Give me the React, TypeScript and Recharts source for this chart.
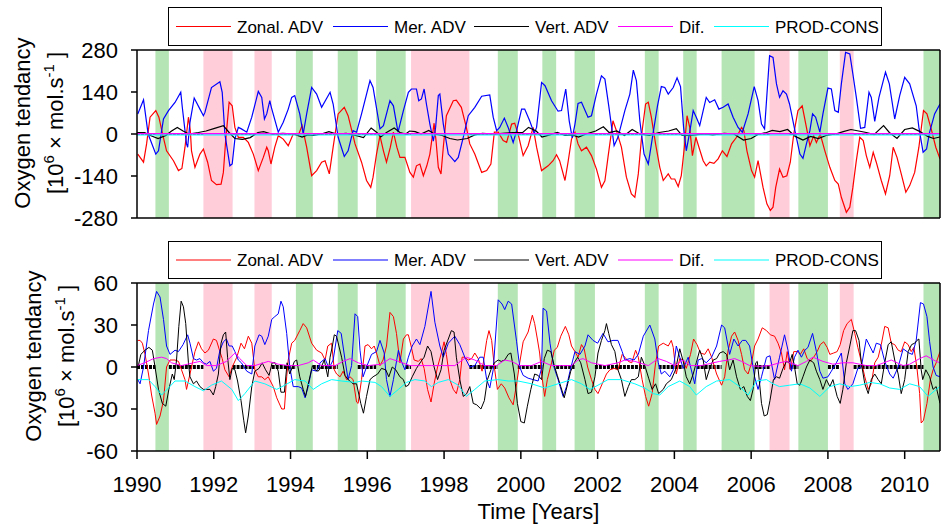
import React from "react";
import { LineChart, Line, XAxis, YAxis, ReferenceArea, ReferenceLine } from "recharts";

const FONT = "'Liberation Sans', Arial, Helvetica, sans-serif";
const X0 = 1990;
const X1 = 2010.92;
const yearTicks = [1990, 1992, 1994, 1996, 1998, 2000, 2002, 2004, 2006, 2008, 2010];
const topTicks = [-280, -140, 0, 140, 280];
const bottomTicks = [-60, -30, 0, 30, 60];

// shaded periods [start, end] in years
const greenPeriods = [
  [1990.48, 1990.83], [1994.14, 1994.58], [1995.23, 1995.75], [1996.23, 1997.0],
  [1999.4, 1999.92], [2000.56, 2000.92], [2001.4, 2001.93], [2003.23, 2003.59],
  [2004.23, 2004.58], [2005.23, 2006.09], [2007.23, 2008.0], [2010.49, 2010.92],
];
const pinkPeriods = [
  [1991.73, 1992.49], [1993.06, 1993.51], [1997.14, 1998.66], [2006.48, 2007.0], [2008.31, 2008.67],
];

// series: [years since 1990, value]
const zonalTop = [
  [0.02, -67], [0.17, -94], [0.25, -33], [0.34, 56], [0.49, 78], [0.57, 56], [0.68, -8], [0.77, -56], [0.95, -89],
  [1.08, -122], [1.17, -115], [1.25, -44], [1.34, 56], [1.39, 11], [1.42, -56], [1.51, -111], [1.64, -67], [1.73, -50],
  [1.84, -94], [1.94, -155], [2.07, -169], [2.19, -167], [2.25, -128], [2.31, -22], [2.4, 106], [2.48, 94], [2.55, 22],
  [2.64, -11], [2.77, -11], [2.9, -28], [3.03, -67], [3.16, -122], [3.29, -78], [3.38, -44], [3.42, -56], [3.49, -100],
  [3.59, -44], [3.68, -6], [3.81, -17], [3.94, -39], [4.07, 0], [4.2, -6], [4.3, 28], [4.42, -44], [4.55, -139],
  [4.68, -122], [4.81, -94], [4.9, -89], [5.01, -133], [5.11, -44], [5.24, 67], [5.4, 89], [5.5, 61], [5.68, -33],
  [5.85, -94], [5.98, -155], [6.09, -178], [6.15, -144], [6.24, -67], [6.33, -6], [6.42, -56], [6.5, -94], [6.6, -44],
  [6.68, 6], [6.77, -44], [6.85, -78], [6.98, -78], [7.11, -128], [7.2, -144], [7.28, -106], [7.37, -100], [7.46, -139],
  [7.55, -106], [7.63, -67], [7.74, 36], [7.79, -22], [7.85, -111], [7.92, -133], [7.98, -44], [8.06, 61], [8.24, 111],
  [8.32, 113], [8.45, 89], [8.58, 22], [8.67, -33], [8.8, -67], [8.98, -128], [9.11, -122], [9.22, -100], [9.31, 6],
  [9.41, 6], [9.54, -22], [9.63, -28], [9.76, 33], [9.84, 36], [9.93, 0], [10.06, -72], [10.19, -39], [10.32, 22],
  [10.41, -44], [10.54, -122], [10.71, -106], [10.84, -89], [10.93, -69], [11.01, -89], [11.15, -155], [11.23, -94],
  [11.32, -17], [11.41, 6], [11.49, -33], [11.58, -56], [11.71, -44], [11.84, -72], [11.97, -117], [12.1, -178],
  [12.19, -156], [12.27, -78], [12.4, 44], [12.49, 11], [12.62, -44], [12.75, -144], [12.88, -200], [12.97, -211],
  [13.06, -133], [13.16, 11], [13.25, 100], [13.32, 106], [13.4, 56], [13.51, -33], [13.62, -111], [13.71, -155],
  [13.84, -133], [13.92, -150], [14.01, -150], [14.1, -175], [14.18, -139], [14.26, -44], [14.33, 61], [14.4, 22],
  [14.47, -72], [14.56, -11], [14.64, -44], [14.75, -89], [14.83, -106], [14.92, -94], [15.03, -98], [15.14, -83],
  [15.25, -56], [15.37, -75], [15.49, -33], [15.62, -11], [15.75, 22], [15.81, 11], [15.89, -56], [16.01, -122],
  [16.09, -144], [16.18, -89], [16.31, -178], [16.41, -233], [16.5, -255], [16.57, -244], [16.64, -178], [16.74, -117],
  [16.83, -144], [16.93, -139], [17.02, -94], [17.11, 0], [17.22, 78], [17.33, 94], [17.44, 22], [17.53, -39],
  [17.63, -6], [17.7, -28], [17.8, 0], [17.92, -56], [18.05, -111], [18.18, -155], [18.27, -167], [18.35, -211],
  [18.48, -261], [18.57, -244], [18.65, -178], [18.74, -89], [18.83, -11], [18.92, -22], [19.0, -72], [19.09, -111],
  [19.18, -61], [19.26, -94], [19.39, -155], [19.5, -200], [19.61, -139], [19.7, -44], [19.8, -78], [19.91, -133],
  [20.03, -194], [20.13, -172], [20.26, -128], [20.37, -44], [20.49, 78], [20.58, 67], [20.69, 17], [20.81, -44], [20.92, -83],
];
const merTop = [
  [0.02, 67], [0.17, 114], [0.29, 0], [0.49, -67], [0.56, -56], [0.69, 50], [0.82, 78], [0.99, 105], [1.14, 139],
  [1.18, 89], [1.29, -33], [1.32, -44], [1.38, 39], [1.49, 120], [1.64, 83], [1.73, 61], [1.77, 72], [1.94, 155],
  [2.16, 174], [2.22, 139], [2.29, 0], [2.42, -106], [2.48, -100], [2.55, -17], [2.64, 22], [2.72, 17], [2.86, 6],
  [2.99, 56], [3.16, 142], [3.25, 122], [3.32, 50], [3.38, 67], [3.46, 111], [3.5, 89], [3.68, 6], [3.81, 39],
  [3.94, 83], [4.03, 122], [4.11, 128], [4.24, 67], [4.33, 0], [4.42, 67], [4.55, 155], [4.68, 133], [4.81, 89],
  [5.03, 139], [5.11, 100], [5.24, -11], [5.4, -75], [5.5, -56], [5.63, 11], [5.72, 6], [5.85, 67], [6.07, 178],
  [6.15, 155], [6.33, 17], [6.42, 28], [6.59, 111], [6.68, 94], [6.8, 6], [6.94, 78], [7.07, 139], [7.15, 150],
  [7.28, 150], [7.34, 111], [7.41, 117], [7.48, 150], [7.54, 100], [7.63, 33], [7.72, -24], [7.78, 22], [7.85, 128],
  [7.89, 133], [7.98, 33], [8.11, -67], [8.28, -92], [8.37, -78], [8.5, -11], [8.63, 61], [8.8, 89], [8.98, 126],
  [9.19, 130], [9.28, 56], [9.37, 11], [9.45, 22], [9.57, 53], [9.67, 22], [9.8, -28], [9.89, 11], [10.02, 83],
  [10.1, 83], [10.23, 44], [10.35, 2], [10.41, 22], [10.54, 172], [10.63, 161], [10.8, 111], [10.97, 76], [11.06, 78],
  [11.17, 150], [11.26, 44], [11.34, -13], [11.41, 33], [11.49, 102], [11.58, 106], [11.75, 56], [11.84, 61],
  [11.97, 133], [12.1, 194], [12.19, 183], [12.29, 94], [12.43, -39], [12.53, -11], [12.71, 78], [12.84, 133],
  [12.93, 213], [13.01, 178], [13.1, 44], [13.21, -67], [13.32, -100], [13.45, 6], [13.56, 94], [13.66, 158],
  [13.75, 155], [13.84, 133], [13.97, 155], [14.07, 187], [14.16, 158], [14.24, 22], [14.31, -56], [14.4, 6],
  [14.49, 78], [14.57, 56], [14.66, 28], [14.75, 78], [14.83, 122], [14.92, 105], [15.05, 114], [15.16, 83],
  [15.27, 89], [15.4, 100], [15.53, 56], [15.66, 22], [15.77, 6], [15.92, 67], [16.08, 158], [16.18, 111], [16.27, 33],
  [16.35, 17], [16.48, 261], [16.57, 255], [16.66, 167], [16.74, 122], [16.83, 144], [16.92, 133], [17.0, 100],
  [17.14, 11], [17.27, -67], [17.35, -81], [17.44, -33], [17.53, 11], [17.6, 67], [17.68, 56], [17.79, 6], [17.87, 67],
  [18.0, 153], [18.09, 150], [18.18, 78], [18.27, 72], [18.35, 167], [18.46, 272], [18.57, 267], [18.65, 200],
  [18.74, 122], [18.85, 19], [18.96, 22], [19.07, 139], [19.13, 122], [19.22, 42], [19.33, 122], [19.5, 206],
  [19.6, 167], [19.74, 50], [19.87, 128], [20.0, 189], [20.13, 167], [20.3, 94], [20.37, 22], [20.48, -61],
  [20.57, -50], [20.65, 6], [20.78, 67], [20.92, 100],
];
const vertTop = [
  [0.0, 5], [0.2, 5], [0.35, -5], [0.55, -15], [0.75, -5], [0.9, 10], [1.05, 22], [1.2, 10], [1.35, 0], [1.6, 5],
  [1.8, 10], [2.0, 18], [2.25, 28], [2.4, 5], [2.55, -15], [2.75, -18], [2.95, -12], [3.15, 5], [3.3, 8], [3.5, 0],
  [3.8, 2], [4.1, 0], [4.3, -10], [4.45, -3], [4.6, -5], [4.8, 0], [5.0, 8], [5.2, 0], [5.45, 2], [5.7, -5],
  [5.9, -12], [6.1, 20], [6.25, 5], [6.35, -10], [6.5, 5], [6.7, 20], [6.85, 5], [7.0, 0], [7.1, 10], [7.25, 8],
  [7.4, 0], [7.6, 12], [7.75, 0], [7.95, -5], [8.15, -15], [8.35, -20], [8.6, -15], [8.8, -3], [9.0, 2], [9.3, 0],
  [9.6, 3], [9.8, 5], [10.05, 5], [10.2, 22], [10.4, 10], [10.55, -10], [10.75, -3], [10.95, 5], [11.15, -5],
  [11.35, -3], [11.5, -10], [11.7, 0], [11.95, 10], [12.15, 24], [12.3, 5], [12.5, 10], [12.7, -5], [12.9, 15],
  [13.1, 0], [13.35, -5], [13.6, 5], [13.85, 10], [14.05, 18], [14.2, -5], [14.4, -5], [14.6, -2], [14.8, 0],
  [15.0, -3], [15.3, 2], [15.55, 0], [15.8, -20], [16.0, -15], [16.2, 0], [16.4, 5], [16.55, 12], [16.75, 8],
  [16.95, 15], [17.15, -8], [17.35, -20], [17.55, -8], [17.75, -15], [17.95, -5], [18.2, 0], [18.4, 8], [18.6, 15],
  [18.8, 10], [19.0, 5], [19.2, -2], [19.45, 28], [19.6, 5], [19.8, -15], [20.0, 15], [20.2, 20], [20.4, 8],
  [20.6, -8], [20.75, -15], [20.92, -10],
];
const difTop = [[0, 1], [5, 1], [10, 1], [15, 1], [20.92, 1]];
const prodTop = [[0, -3], [5, -3], [10, -3], [15, -3], [20.92, -3]];

const zonalBottom = [
  [0.02, 19], [0.08, 19], [0.14, 17], [0.21, 9], [0.3, -5], [0.38, -20], [0.47, -33], [0.51, -41], [0.6, -35],
  [0.69, -24], [0.77, 0], [0.86, 5], [0.99, 5], [1.08, 4], [1.16, -2], [1.25, -9], [1.29, -16], [1.38, -5], [1.51, 11],
  [1.6, 18], [1.68, 13], [1.77, 10], [1.86, 12], [1.99, 20], [2.07, 19], [2.16, 11], [2.22, 6], [2.29, -2], [2.4, -7],
  [2.48, 0], [2.6, 7], [2.71, 17], [2.8, 13], [2.9, 22], [2.99, 17], [3.07, -2], [3.16, -7], [3.25, -7], [3.33, -9],
  [3.42, -7], [3.55, -14], [3.64, -22], [3.77, -30], [3.84, -30], [3.9, -7], [3.94, 5], [4.03, 17], [4.11, 19],
  [4.24, 26], [4.33, 31], [4.42, 28], [4.55, 17], [4.68, 12], [4.81, 10], [4.9, 5], [4.97, 15], [5.07, 17], [5.14, -2],
  [5.2, -5], [5.29, -7], [5.37, -3], [5.46, -9], [5.55, -7], [5.63, -9], [5.72, -25], [5.76, -26], [5.85, -9],
  [5.94, 15], [6.02, 16], [6.11, 13], [6.18, 15], [6.24, 10], [6.33, 1], [6.41, 5], [6.5, 15], [6.59, 39], [6.68, 36],
  [6.76, 24], [6.85, 3], [6.94, 20], [7.02, 23], [7.07, 23], [7.14, 15], [7.22, 5], [7.33, 4], [7.4, 6], [7.48, -1],
  [7.57, -16], [7.66, -25], [7.74, -12], [7.83, 0], [7.93, 10], [8.0, 18], [8.06, 9], [8.15, -9], [8.24, -16],
  [8.32, -19], [8.41, -9], [8.47, 7], [8.54, 7], [8.63, 5], [8.72, 6], [8.8, 10], [8.89, 6], [8.99, -3], [9.11, 19],
  [9.17, 26], [9.24, 19], [9.31, 0], [9.39, -16], [9.49, -12], [9.58, -15], [9.69, -22], [9.8, -27], [9.89, -12],
  [9.97, 3], [10.06, 18], [10.19, 25], [10.3, 37], [10.36, 31], [10.43, 20], [10.49, 10], [10.55, -7], [10.62, -21],
  [10.69, -9], [10.8, 3], [10.87, 12], [10.95, 14], [11.04, 22], [11.16, 29], [11.25, 23], [11.32, 15], [11.41, 11],
  [11.49, 7], [11.58, 16], [11.65, 13], [11.74, 0], [11.84, -9], [11.93, -16], [12.01, -19], [12.12, -12],
  [12.23, -5], [12.32, -2], [12.43, -1], [12.53, -2], [12.64, 9], [12.71, 7], [12.8, 4], [12.89, 3], [12.99, 12],
  [13.06, 7], [13.16, -9], [13.25, -21], [13.33, -28], [13.42, -19], [13.51, 3], [13.59, 15], [13.71, 17], [13.84, 15],
  [13.92, 19], [13.97, 14], [14.05, -5], [14.14, 6], [14.23, 5], [14.31, -1], [14.42, 9], [14.5, 20], [14.59, 16],
  [14.68, 10], [14.79, 9], [14.88, 13], [14.97, 7], [15.1, -5], [15.23, -13], [15.31, -7], [15.4, 12], [15.49, 22],
  [15.57, 25], [15.66, 19], [15.75, 9], [15.83, -2], [15.92, -5], [16.01, 3], [16.09, 15], [16.18, 20], [16.29, 28],
  [16.4, 26], [16.5, 23], [16.61, 22], [16.7, 17], [16.79, 10], [16.87, -2], [16.94, 11], [17.02, -2], [17.11, 11],
  [17.2, 11], [17.28, 9], [17.37, 13], [17.46, 6], [17.54, 4], [17.63, 7], [17.72, 11], [17.8, 16], [17.89, 18],
  [17.98, 14], [18.05, 9], [18.15, 10], [18.24, 11], [18.32, 16], [18.41, 26], [18.5, 31], [18.61, 34], [18.7, 24],
  [18.78, 14], [18.87, 4], [18.96, -7], [19.05, -16], [19.13, -12], [19.22, 3], [19.31, 7], [19.39, 16], [19.48, 29],
  [19.57, 28], [19.65, 17], [19.74, 16], [19.83, 12], [19.91, 11], [20.0, 18], [20.09, 16], [20.17, 11], [20.24, 14],
  [20.32, -1], [20.39, -19], [20.43, -40], [20.49, -38], [20.58, -26], [20.67, -9], [20.74, -2], [20.82, 3], [20.92, 11],
];
const merBottom = [
  [0.02, -9], [0.08, -12], [0.17, 0], [0.3, 26], [0.43, 45], [0.51, 54], [0.6, 50], [0.69, 34], [0.77, 15], [0.86, 9],
  [0.99, 12], [1.08, 11], [1.2, 16], [1.32, 23], [1.38, 17], [1.47, 6], [1.55, 5], [1.64, 6], [1.73, 3], [1.81, 2],
  [1.9, 4], [1.99, -3], [2.07, -1], [2.16, 12], [2.25, 18], [2.33, 20], [2.4, 15], [2.48, 15], [2.55, 11], [2.64, 5],
  [2.72, 3], [2.86, -3], [2.99, -5], [3.07, 15], [3.18, 23], [3.25, 22], [3.33, 16], [3.42, 22], [3.51, 34], [3.59, 36],
  [3.68, 38], [3.75, 47], [3.81, 43], [3.9, 24], [3.98, 0], [4.07, -14], [4.2, -14], [4.29, -15], [4.38, -22],
  [4.46, -14], [4.55, -2], [4.68, -3], [4.77, 3], [4.9, 6], [5.0, -1], [5.11, 5], [5.23, 26], [5.32, 24], [5.42, 5],
  [5.5, -9], [5.59, 1], [5.68, 38], [5.75, 36], [5.81, 12], [5.89, -7], [5.98, 0], [6.11, 9], [6.24, 11], [6.33, 19],
  [6.44, 10], [6.5, -9], [6.59, -21], [6.68, -9], [6.81, 12], [6.89, 4], [6.98, -2], [7.07, 7], [7.17, 15], [7.28, 20],
  [7.37, 16], [7.5, 29], [7.66, 54], [7.76, 32], [7.89, 15], [7.98, 7], [8.11, 17], [8.28, 22], [8.41, 16], [8.54, 7],
  [8.67, 0], [8.8, 1], [8.93, 7], [9.02, 7], [9.11, -9], [9.19, -15], [9.28, -2], [9.41, 48], [9.51, 45], [9.58, 41],
  [9.67, 47], [9.76, 45], [9.89, 18], [9.97, 0], [10.06, -6], [10.19, -8], [10.32, -9], [10.45, -10], [10.54, -1],
  [10.58, 42], [10.67, 40], [10.76, 17], [10.85, 1], [10.97, -9], [11.1, -21], [11.19, -14], [11.28, -3], [11.41, 11],
  [11.54, 9], [11.67, 15], [11.75, 23], [11.88, 19], [12.0, 17], [12.14, 24], [12.27, 18], [12.4, 19], [12.53, 19],
  [12.64, 11], [12.71, 5], [12.84, 6], [12.95, 5], [13.06, 9], [13.19, 22], [13.36, 30], [13.49, 20], [13.58, 3],
  [13.66, -5], [13.75, -3], [13.88, -7], [13.97, -2], [14.05, 15], [14.14, 7], [14.23, -1], [14.36, 7], [14.44, -2],
  [14.53, -12], [14.62, 5], [14.71, 6], [14.83, 3], [14.97, 7], [15.1, 15], [15.23, 30], [15.31, 28], [15.44, 9],
  [15.55, 20], [15.66, 15], [15.77, 19], [15.86, 19], [15.96, 15], [16.09, -7], [16.18, -16], [16.27, -7], [16.4, 7],
  [16.49, 8], [16.61, -9], [16.74, 7], [16.87, 23], [16.96, 12], [17.05, -3], [17.13, 7], [17.22, 12], [17.31, 7],
  [17.4, 12], [17.48, 14], [17.6, 24], [17.7, 11], [17.79, -3], [17.87, -8], [18.0, -7], [18.09, -3], [18.22, 3],
  [18.35, 10], [18.44, -12], [18.52, -16], [18.65, -12], [18.78, -1], [18.87, 0], [19.0, 20], [19.09, 15], [19.18, 10],
  [19.26, 17], [19.37, 16], [19.48, 4], [19.61, -5], [19.7, -8], [19.83, 0], [19.96, 13], [20.11, 10], [20.2, 9],
  [20.3, 19], [20.41, 46], [20.49, 45], [20.58, 36], [20.65, 18], [20.74, 0], [20.82, -6], [20.92, -7],
];
const vertBottom = [
  [0.02, -1], [0.1, 9], [0.21, 12], [0.31, 14], [0.4, 12], [0.47, 0], [0.56, -16], [0.66, -26], [0.75, -28],
  [0.83, -16], [0.92, -5], [0.97, -9], [1.03, 5], [1.09, 29], [1.15, 47], [1.21, 43], [1.27, 31], [1.34, 3], [1.38, -7],
  [1.47, -12], [1.55, -10], [1.64, -14], [1.73, -16], [1.81, -16], [1.9, -16], [1.99, -20], [2.05, -14], [2.12, -5],
  [2.19, 17], [2.25, 23], [2.31, 25], [2.36, 7], [2.42, -9], [2.48, -1], [2.55, -2], [2.62, -10], [2.71, -24],
  [2.78, -38], [2.83, -47], [2.9, -35], [2.99, -14], [3.07, -3], [3.18, -1], [3.26, 3], [3.35, -2], [3.44, -6],
  [3.52, 3], [3.6, 3], [3.68, -3], [3.75, -18], [3.84, -18], [3.91, 3], [3.98, -5], [4.1, 4], [4.16, 5], [4.24, -7],
  [4.33, -16], [4.39, -21], [4.48, -10], [4.57, 1], [4.64, -2], [4.72, -3], [4.8, 0], [4.88, 5], [4.97, -7], [5.03, 7],
  [5.09, 15], [5.14, 23], [5.2, 22], [5.26, 15], [5.33, 7], [5.42, -6], [5.5, -9], [5.63, -12], [5.72, -12],
  [5.83, -26], [5.9, -33], [5.98, -21], [6.07, -9], [6.15, -7], [6.27, -5], [6.37, -1], [6.48, -2], [6.56, -7],
  [6.65, 0], [6.74, -2], [6.85, -7], [6.94, -9], [7.0, -14], [7.07, -13], [7.17, -7], [7.28, -1], [7.4, 4], [7.48, 7],
  [7.57, 15], [7.66, 11], [7.74, 0], [7.83, -9], [7.92, -2], [8.0, 12], [8.11, 20], [8.19, 26], [8.26, 25], [8.32, 7],
  [8.41, -9], [8.5, -21], [8.59, -19], [8.67, -14], [8.76, -26], [8.85, -27], [8.96, -30], [9.05, -24], [9.13, -9],
  [9.22, -2], [9.31, 3], [9.41, 5], [9.49, 4], [9.58, 5], [9.67, 9], [9.74, 10], [9.83, -5], [9.91, -26], [10.0, -39],
  [10.09, -40], [10.17, -28], [10.26, -16], [10.36, -5], [10.45, -6], [10.54, -9], [10.61, 6], [10.69, 12],
  [10.78, 11], [10.87, 1], [10.95, -6], [11.04, -14], [11.13, -22], [11.22, -12], [11.3, -3], [11.39, 3], [11.48, 7],
  [11.56, 3], [11.67, -9], [11.75, -19], [11.84, -18], [11.93, -7], [12.01, 10], [12.1, 19], [12.19, 26], [12.23, 31],
  [12.29, 24], [12.36, 16], [12.45, 11], [12.53, -2], [12.62, -9], [12.71, -21], [12.8, -14], [12.88, -9], [12.97, -9],
  [13.06, -7], [13.14, 7], [13.23, 1], [13.33, -8], [13.42, -16], [13.51, -12], [13.59, -19], [13.71, -16],
  [13.79, -12], [13.92, -9], [14.03, -2], [14.14, 13], [14.23, 4], [14.31, -7], [14.4, -12], [14.49, -5], [14.57, 3],
  [14.66, 12], [14.75, 5], [14.83, -9], [14.92, -1], [15.01, 5], [15.1, 6], [15.18, 10], [15.27, 11], [15.36, 9],
  [15.44, -2], [15.53, 5], [15.62, -7], [15.72, -16], [15.81, -14], [15.9, -21], [15.98, -24], [16.05, -16],
  [16.12, 3], [16.16, 4], [16.21, -9], [16.27, -26], [16.34, -35], [16.42, -34], [16.49, -24], [16.58, -9],
  [16.66, -7], [16.74, -8], [16.83, -1], [16.92, 4], [17.0, 3], [17.07, 9], [17.13, 0], [17.2, -12], [17.27, -13],
  [17.35, -7], [17.44, 0], [17.53, 5], [17.63, 3], [17.7, -3], [17.79, -9], [17.87, -16], [17.96, -9], [18.05, -14],
  [18.13, -9], [18.24, -21], [18.32, -26], [18.39, -16], [18.48, 3], [18.57, 15], [18.65, 26], [18.72, 26],
  [18.81, 19], [18.87, 3], [18.96, -12], [19.05, -19], [19.13, -9], [19.22, -5], [19.31, -9], [19.39, -12], [19.48, 3],
  [19.57, 16], [19.65, 18], [19.74, 5], [19.83, -5], [19.91, -19], [20.0, -9], [20.09, 11], [20.18, 16], [20.26, 17],
  [20.32, 19], [20.37, 20], [20.43, -2], [20.47, -9], [20.55, -2], [20.65, -7], [20.74, -16], [20.82, -14], [20.92, -26],
];
const difBottom = [
  [0, 1], [0.2, 3], [0.43, 6], [0.64, 7], [0.77, 6], [0.9, 3], [1.16, 1], [1.47, 3], [1.64, 4], [1.81, 1], [2.07, 1],
  [2.33, 4], [2.55, 10], [2.68, 6], [2.86, 1], [3.07, 1], [3.42, 4], [3.68, 2], [3.94, 1], [4.2, 1], [4.46, 3],
  [4.59, 5], [4.81, 1], [5.16, 1], [5.37, 4], [5.55, 6], [5.76, 3], [6.02, 1], [6.37, 2], [6.59, 6], [6.81, 4],
  [7.11, 1], [7.33, 1], [7.67, 1], [8.02, 1], [8.28, 1], [8.58, 7], [8.8, 5], [9.06, 1], [9.37, 1], [9.58, 5],
  [9.76, 4], [9.97, 1], [10.28, 1], [10.54, 4], [10.8, 1], [11.06, 1], [11.32, 1], [11.49, 5], [11.62, 6], [11.84, 3],
  [12.19, 1], [12.53, 3], [12.71, 5], [12.97, 4], [13.32, 1], [13.58, 6], [13.79, 4], [14.01, 1], [14.23, 5], [14.4, 1],
  [14.7, 1], [15.01, 3], [15.18, 4], [15.4, 5], [15.57, 6], [15.75, 4], [15.96, 1], [16.22, 0.5], [16.48, 1],
  [16.74, 3], [16.92, 4], [17.22, 1], [17.44, 4], [17.61, 7], [17.87, 4], [18.13, 2], [18.39, 3], [18.65, 3], [19.0, 1],
  [19.26, 1], [19.65, 5], [19.96, 1], [20.13, 2], [20.39, 6], [20.56, 8], [20.82, 4], [20.92, 3],
];
const prodBottom = [
  [0.02, -9], [0.3, -9], [0.47, -14], [0.64, -20], [0.82, -15], [0.99, -10], [1.25, -10], [1.51, -14], [1.73, -17],
  [1.94, -13], [2.2, -10], [2.47, -16], [2.64, -24], [2.81, -19], [3.07, -10], [3.33, -12], [3.64, -16], [3.85, -13],
  [4.11, -9], [4.38, -10], [4.59, -16], [4.81, -12], [5.07, -9], [5.33, -10], [5.68, -11], [5.85, -10], [6.2, -11],
  [6.37, -14], [6.59, -21], [6.81, -16], [7.02, -11], [7.24, -9], [7.5, -10], [7.67, -14], [7.85, -11], [8.11, -9],
  [8.37, -13], [8.58, -21], [8.8, -16], [9.06, -10], [9.41, -9], [9.67, -10], [9.93, -10], [10.28, -12], [10.62, -15],
  [10.97, -12], [11.32, -9], [11.58, -12], [11.8, -16], [12.01, -13], [12.27, -9], [12.62, -9], [12.97, -12],
  [13.23, -15], [13.45, -19], [13.62, -20], [13.84, -14], [14.14, -10], [14.4, -14], [14.57, -20], [14.83, -14],
  [15.1, -10], [15.44, -9], [15.7, -14], [15.92, -20], [16.14, -10], [16.4, -9], [16.57, -12], [16.74, -14], [17.0, -13],
  [17.27, -12], [17.53, -15], [17.79, -21], [18.05, -14], [18.31, -12], [18.57, -14], [18.83, -13], [19.09, -11],
  [19.35, -12], [19.61, -15], [19.87, -16], [20.13, -12], [20.39, -14], [20.61, -21], [20.82, -16], [20.92, -14],
];

const legendItems = [
  { label: "Zonal. ADV", color: "#ff0000", x: 7 },
  { label: "Mer. ADV", color: "#0000ff", x: 164 },
  { label: "Vert. ADV", color: "#000000", x: 305 },
  { label: "Dif.", color: "#ff00ff", x: 449 },
  { label: "PROD-CONS", color: "#00ffff", x: 545 },
];

const toPts = (arr: number[][]) => arr.map(([t, v]) => ({ t: +(X0 + t).toFixed(3), v }));

// white (unshaded) stretches get the black zero markers
function neutralSegments() {
  const all = [...greenPeriods, ...pinkPeriods].sort((a, b) => a[0] - b[0]);
  const out: number[][] = [];
  let s = X0;
  all.forEach(([a, b]) => {
    if (a - s > 0.05) out.push([s, a]);
    s = b;
  });
  if (X1 - s > 0.05) out.push([s, X1]);
  return out;
}

function LegendBox({ top, height, lw }: { top: number; height: number; lw: number }) {
  const cy = height / 2 - 1;
  return (
    <div style={{ position: "absolute", left: 168, top, width: 714, height, boxSizing: "border-box", border: "1.5px solid #000", background: "#fff" }}>
      <svg width={711} height={height - 3} style={{ position: "absolute", left: 0, top: 0 }}>
        {legendItems.map((it) => (
          <g key={it.label}>
            <line x1={it.x} x2={it.x + 55} y1={cy} y2={cy} stroke={it.color} strokeWidth={lw} />
            <text x={it.x + 61} y={cy + 6} fontSize={17} fontFamily={FONT} fill="#000">{it.label}</text>
          </g>
        ))}
      </svg>
    </div>
  );
}

function YTitle({ cx, cy, gap }: { cx: number; cy: number; gap: number }) {
  const w = 260;
  const h = gap * 2;
  const supStyle = { fontSize: 15, verticalAlign: 9, lineHeight: 0 };
  return (
    <div style={{ position: "absolute", left: cx - w / 2, top: cy - h / 2, width: w, height: h, transform: "rotate(-90deg)", textAlign: "center", fontFamily: FONT, fontSize: 22, lineHeight: `${gap}px`, color: "#000" }}>
      <div>Oxygen tendancy</div>
      <div>[10<sup style={supStyle}>6</sup> × mol.s<sup style={supStyle}>-1</sup> ]</div>
    </div>
  );
}

type Series = { data: number[][]; color: string };

function Panel(props: {
  height: number; margin: { top: number; right: number; bottom: number; left: number };
  domain: number[]; ticks: number[]; series: Series[]; labels: boolean; lw: number; dotW: number; dotColor: string;
}) {
  const { height, margin, domain, ticks, series, labels, lw, dotW, dotColor } = props;
  const axisStyle = { stroke: "#000", strokeWidth: 1.5 };
  return (
    <LineChart width={944} height={height} margin={margin}>
      {greenPeriods.map(([a, b]) => (
        <ReferenceArea key={"g" + a} x1={a} x2={b} xAxisId="b" yAxisId="l" fill="#b5e4b5" fillOpacity={1} stroke="none" ifOverflow="hidden" />
      ))}
      {pinkPeriods.map(([a, b]) => (
        <ReferenceArea key={"p" + a} x1={a} x2={b} xAxisId="b" yAxisId="l" fill="#ffcdda" fillOpacity={1} stroke="none" ifOverflow="hidden" />
      ))}
      <XAxis xAxisId="b" dataKey="t" type="number" domain={[X0, X1]} ticks={yearTicks} allowDataOverflow
        height={labels ? 70 : 10} tickSize={8} tickMargin={17} axisLine={axisStyle} tickLine={axisStyle}
        tick={labels ? { fill: "#000", fontSize: 22, fontFamily: FONT } : false}
        label={labels ? { value: "Time [Years]", position: "insideBottom", offset: 2, fill: "#000", fontSize: 22, fontFamily: FONT } : undefined} />
      <XAxis xAxisId="t" orientation="top" dataKey="t" type="number" domain={[X0, X1]} ticks={yearTicks} allowDataOverflow
        height={10} tickSize={8} axisLine={axisStyle} tickLine={axisStyle} tick={false} />
      <YAxis yAxisId="l" type="number" domain={domain} ticks={ticks} allowDataOverflow width={137} tickSize={6} tickMargin={13}
        axisLine={axisStyle} tickLine={axisStyle} tick={{ fill: "#000", fontSize: 22, fontFamily: FONT }} />
      <YAxis yAxisId="r" orientation="right" type="number" domain={domain} ticks={ticks} allowDataOverflow width={4} tickSize={4}
        axisLine={axisStyle} tickLine={axisStyle} tick={false} />
      {neutralSegments().map(([a, b]) => (
        <ReferenceLine key={"n" + a} xAxisId="b" yAxisId="l" segment={[{ x: a, y: 0 }, { x: b, y: 0 }]}
          stroke={dotColor} strokeWidth={dotW} strokeDasharray="3 1" />
      ))}
      {series.map((s, i) => (
        <Line key={i} data={toPts(s.data)} dataKey="v" xAxisId="b" yAxisId="l" type="linear" stroke={s.color}
          strokeWidth={lw} dot={false} activeDot={false} isAnimationActive={false} />
      ))}
    </LineChart>
  );
}

export default function App() {
  const topSeries: Series[] = [
    { data: zonalTop, color: "#ff0000" },
    { data: merTop, color: "#0000ff" },
    { data: vertTop, color: "#000000" },
    { data: prodTop, color: "#00ffff" },
    { data: difTop, color: "#ff00ff" },
  ];
  const bottomSeries: Series[] = [
    { data: zonalBottom, color: "#ff0000" },
    { data: merBottom, color: "#0000ff" },
    { data: vertBottom, color: "#000000" },
    { data: difBottom, color: "#ff00ff" },
    { data: prodBottom, color: "#00ffff" },
  ];
  return (
    <div style={{ position: "absolute", left: 0, top: 0, width: 944, height: 531, background: "#fff", overflow: "hidden", fontFamily: FONT }}>
      <div style={{ position: "absolute", left: 0, top: 0 }}>
        <Panel height={240} margin={{ top: 40, right: 0, bottom: 12, left: 0 }} domain={[-280, 280]} ticks={topTicks}
          series={topSeries} labels={false} lw={1.2} dotW={2} dotColor="#444" />
      </div>
      <div style={{ position: "absolute", left: 0, top: 240 }}>
        <Panel height={291} margin={{ top: 33, right: 0, bottom: 10, left: 0 }} domain={[-60, 60]} ticks={bottomTicks}
          series={bottomSeries} labels={true} lw={1} dotW={4} dotColor="#000" />
      </div>
      <LegendBox top={7} height={39} lw={1.2} />
      <LegendBox top={241} height={38} lw={1} />
      <YTitle cx={39} cy={123} gap={33} />
      <YTitle cx={50} cy={356} gap={33} />
    </div>
  );
}
